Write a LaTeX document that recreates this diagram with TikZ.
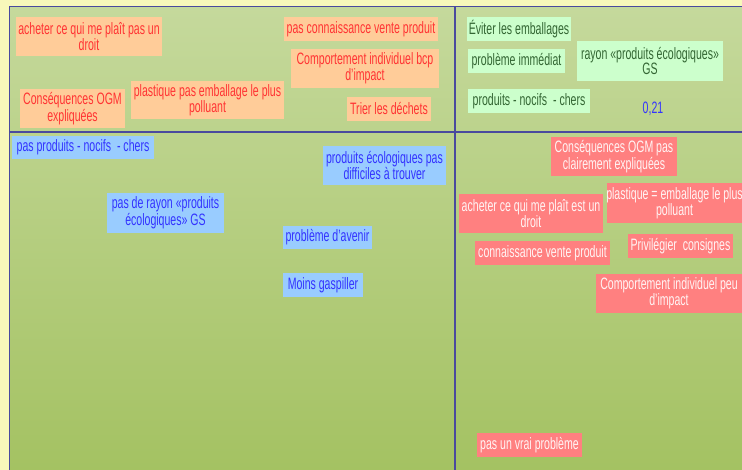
\documentclass[tikz,border=0pt]{standalone}
\usepackage{fontspec}
\setmainfont{Liberation Sans}[FakeStretch=0.64]
\definecolor{bgyel}{HTML}{F8F8BA}
\definecolor{gtop}{HTML}{C5D99C}
\definecolor{gbot}{HTML}{A4C262}
\definecolor{frame}{HTML}{4A4A9E}
\definecolor{ofill}{HTML}{FFCC99}
\definecolor{otext}{HTML}{FF3333}
\definecolor{gfill}{HTML}{CCFFCC}
\definecolor{gtext}{HTML}{336633}
\definecolor{bfill}{HTML}{99CCFF}
\definecolor{btext}{HTML}{3333FF}
\definecolor{sfill}{HTML}{FF8080}
\definecolor{stext}{HTML}{FFF4F4}
\tikzset{
  card/.style={inner sep=0pt, align=center, font=\fontsize{16.5}{15}\selectfont},
  obox/.style={card, fill=ofill, text=otext},
  gbox/.style={card, fill=gfill, text=gtext},
  bbox/.style={card, fill=bfill, text=btext},
  sbox/.style={card, fill=sfill, text=stext},
  frameline/.style={draw=frame, line width=1.2pt},
}
\begin{document}
\begin{tikzpicture}[x=1pt, y=-1pt]
\useasboundingbox (0,0) rectangle (742,470);
\clip (0,0) rectangle (742,470);
\fill[bgyel] (0,0) rectangle (742,470);
\shade[top color=gtop, bottom color=gbot] (9.5,6.5) rectangle (742,470);
% frame lines
\coordinate (tl) at (9.5,6.5);
\coordinate (tr) at (742,6.5);
\coordinate (bl) at (9.5,470);
\coordinate (ml) at (9.5,132);
\coordinate (mr) at (742,132);
\coordinate (vt) at (455,6.5);
\coordinate (vb) at (455,470);
\draw[frameline] (bl) -- (tl) -- (tr);
\draw[frameline] (ml) -- (mr);
\draw[frameline] (vt) -- (vb);
% top-left (orange)
\node[obox, minimum width=146pt, minimum height=39pt] (o1) at (89,36.5) {acheter ce qui me plaît pas un\\droit};
\node[obox, minimum width=154pt, minimum height=24pt] (o2) at (361,29) {pas connaissance vente produit};
\node[obox, minimum width=148pt, minimum height=39pt] (o3) at (365,68.5) {Comportement individuel bcp\\d'impact};
\node[obox, minimum width=105pt, minimum height=39pt] (o4) at (72.5,108.5) {Conséquences OGM\\expliquées};
\node[obox, minimum width=153pt, minimum height=38pt] (o5) at (207.5,100) {plastique pas emballage le plus\\polluant};
\node[obox, minimum width=84pt, minimum height=24pt] (o6) at (389,109) {Trier les déchets};
% top-right (light green)
\node[gbox, minimum width=104pt, minimum height=24pt] (g1) at (519,29) {Éviter les emballages};
\node[gbox, minimum width=97pt, minimum height=24pt] (g2) at (516.5,61) {problème immédiat};
\node[gbox, minimum width=146pt, minimum height=40pt] (g3) at (650,61) {rayon «produits écologiques»\\GS};
\node[gbox, minimum width=122pt, minimum height=24pt] (g4) at (529,101) {produits - nocifs\ \ - chers};
\node[card, text=btext] (v1) at (653,109) {0,21};
% bottom-left (blue)
\node[bbox, minimum width=142pt, minimum height=23pt] (b1) at (83,147.5) {pas produits - nocifs\ \ - chers};
\node[bbox, minimum width=123pt, minimum height=39pt] (b2) at (384.5,165.5) {produits écologiques pas\\difficiles à trouver};
\node[bbox, minimum width=117pt, minimum height=40pt] (b3) at (165.5,213) {pas de rayon «produits\\écologiques» GS};
\node[bbox, minimum width=89pt, minimum height=23pt] (b4) at (327.5,237.5) {problème d'avenir};
\node[bbox, minimum width=80pt, minimum height=24pt] (b5) at (323,285) {Moins gaspiller};
% bottom-right (salmon)
\node[sbox, minimum width=126pt, minimum height=39pt] (s1) at (614,156.5) {Conséquences OGM pas\\clairement expliquées};
\node[sbox, minimum width=135pt, minimum height=40pt] (s2) at (674.5,203) {\makebox[0pt][c]{plastique = emballage le plus}\\polluant};
\node[sbox, minimum width=144pt, minimum height=39pt] (s3) at (531,213.5) {acheter ce qui me plaît est un\\droit};
\node[sbox, minimum width=105pt, minimum height=24pt] (s4) at (680.5,246) {Privilégier\ \ consignes};
\node[sbox, minimum width=135pt, minimum height=24pt] (s5) at (542.5,253) {connaissance vente produit};
\node[sbox, minimum width=146pt, minimum height=39pt] (s6) at (669,293.5) {Comportement individuel peu\\d'impact};
\node[sbox, minimum width=105pt, minimum height=24pt] (s7) at (529.5,445) {pas un vrai problème};
\end{tikzpicture}
\end{document}
